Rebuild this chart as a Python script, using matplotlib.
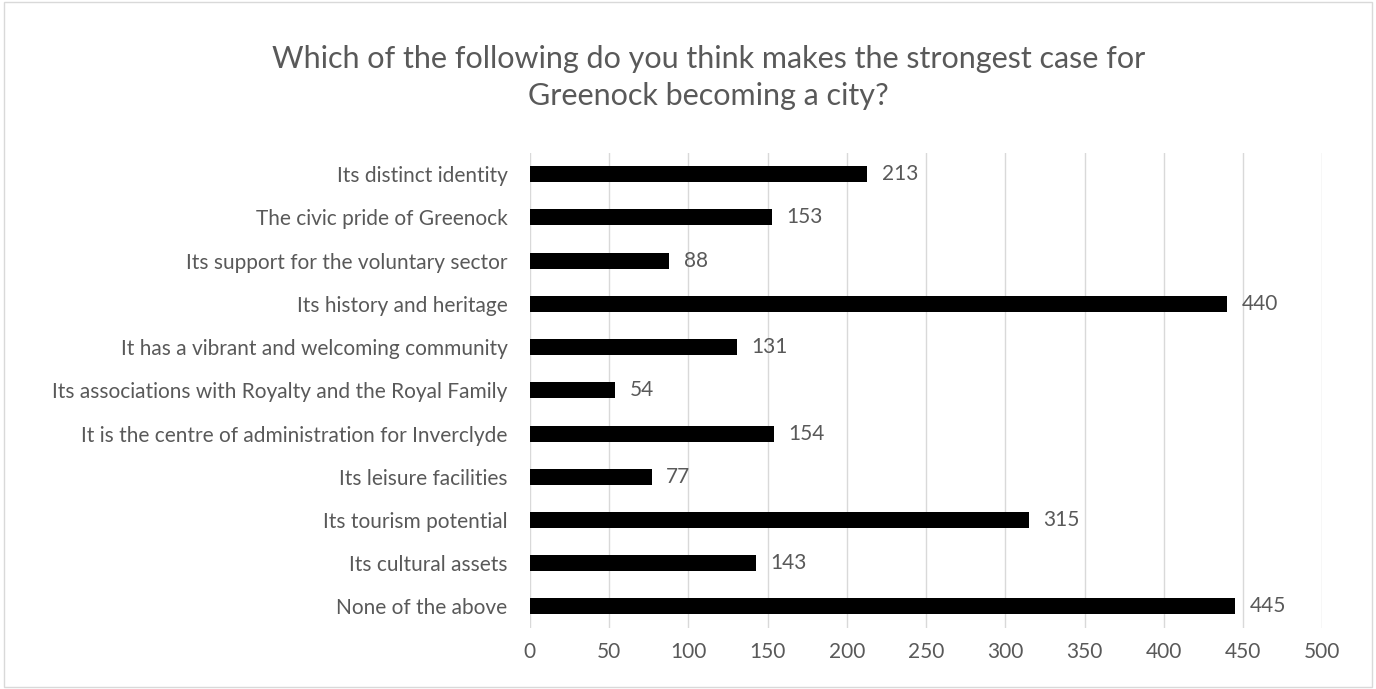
import matplotlib.pyplot as plt
from matplotlib.patches import Rectangle

# データ（上から順）
categories = [
    "Its distinct identity",
    "The civic pride of Greenock",
    "Its support for the voluntary sector",
    "Its history and heritage",
    "It has a vibrant and welcoming community",
    "Its associations with Royalty and the Royal Family",
    "It is the centre of administration for Inverclyde",
    "Its leisure facilities",
    "Its tourism potential",
    "Its cultural assets",
    "None of the above",
]
counts = [213, 153, 88, 440, 131, 54, 154, 77, 315, 143, 445]
xticks = [0, 50, 100, 150, 200, 250, 300, 350, 400, 450, 500]

plt.rcParams['font.family'] = ['Lato', 'DejaVu Sans']
text_col = '#595959'

fig = plt.figure(figsize=(13.76, 6.89), dpi=100)
ax = fig.add_axes([0.385, 0.0885, 0.576, 0.690])

ypos = list(range(len(categories)))[::-1]
ax.barh(ypos, counts, height=0.37, color='black', zorder=3)
for y, v in zip(ypos, counts):
    ax.text(v + 9, y, str(v), va='center', ha='left', fontsize=15, color=text_col)

ax.set_xlim(0, 500)
ax.set_ylim(-0.5, len(categories) - 0.5)
ax.set_xticks(xticks)
ax.set_yticks(ypos)
ax.set_yticklabels(categories)
ax.tick_params(axis='y', length=0, labelsize=15, colors=text_col, pad=16)
ax.tick_params(axis='x', length=0, labelsize=15, colors=text_col, pad=10)
ax.grid(axis='x', color='#d9d9d9', linewidth=1, zorder=0)
for s in ax.spines.values():
    s.set_visible(False)

fig.text(0.515, 0.888, "Which of the following do you think makes the strongest case for\nGreenock becoming a city?",
         ha='center', va='center', fontsize=22, color=text_col, linespacing=1.4)

# 外枠
fig.patches.append(Rectangle((0.003, 0.003), 0.994, 0.994, transform=fig.transFigure,
                             fill=False, edgecolor='#d9d9d9', linewidth=1))

fig.savefig('out.png', dpi=100)
